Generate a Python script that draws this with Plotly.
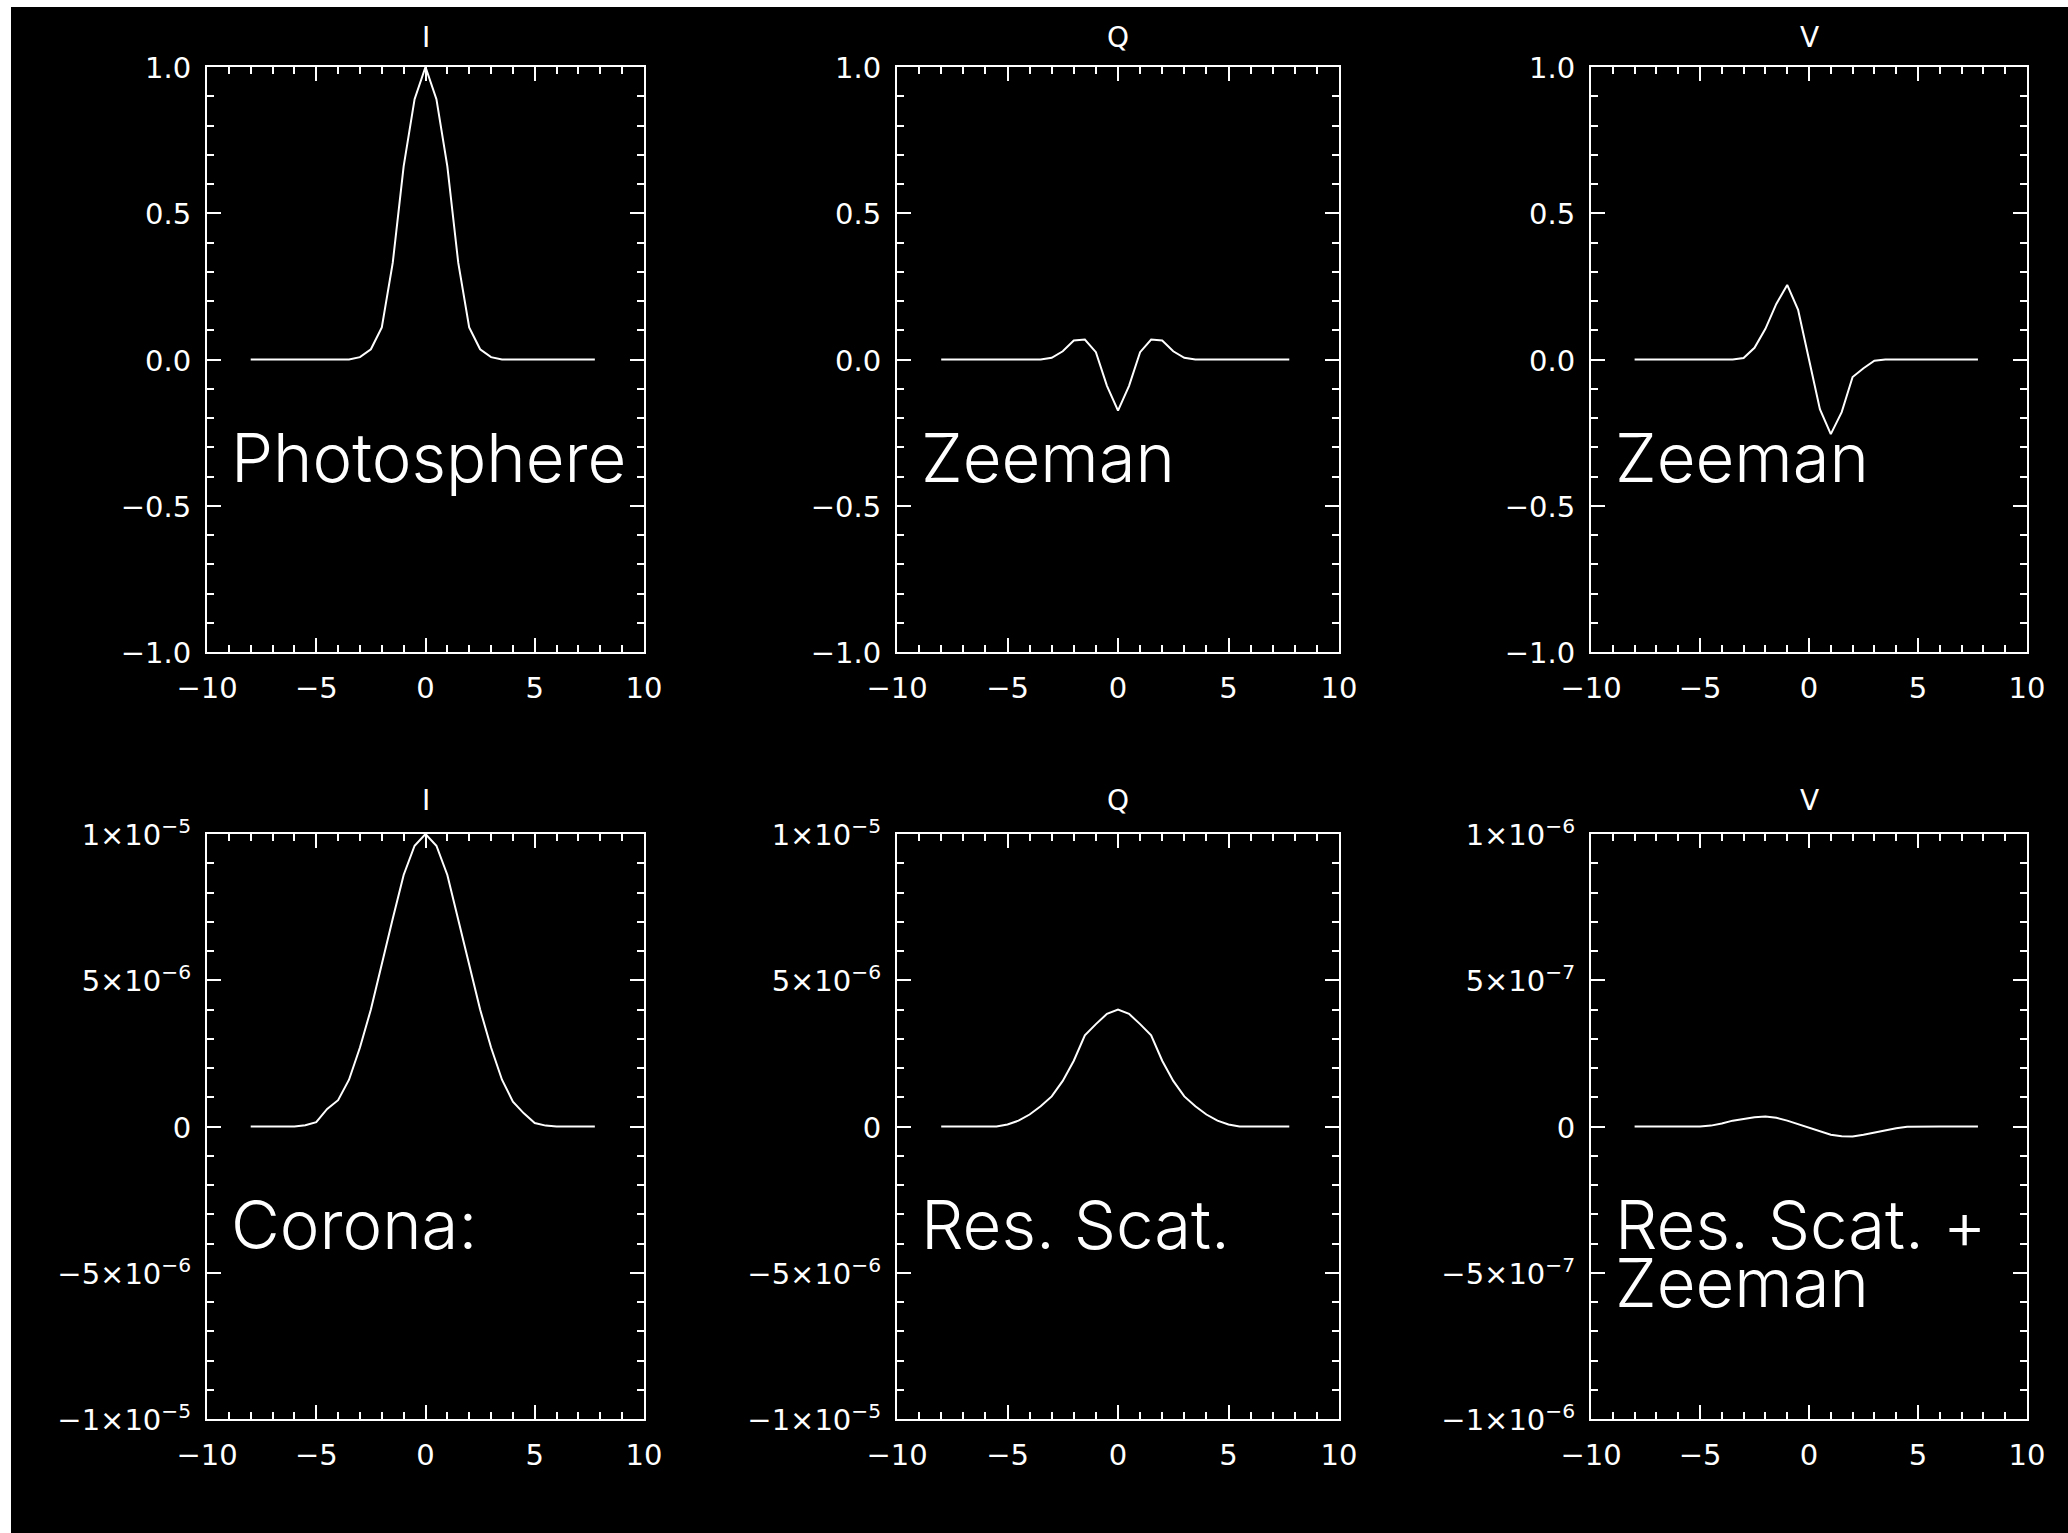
import numpy as np
import plotly.graph_objects as go

W, H = 2068, 1533

# Wavelength offset grid shared by all profiles
x_pos = [-8.0, -7.5, -7.0, -6.5, -6.0, -5.5, -5.0, -4.5, -4.0, -3.5, -3.0,
         -2.5, -2.0, -1.5, -1.0, -0.5, 0.0, 0.5, 1.0, 1.5, 2.0, 2.5, 3.0,
         3.5, 4.0, 4.5, 5.0, 5.5, 6.0, 6.5, 7.0, 7.5, 7.75]

# Photospheric Stokes profiles (normalised)
photo_I = [0, 0, 0, 0, 0, 0, 0, 0, 0, 0.0, 0.008,
           0.035, 0.11, 0.33, 0.66, 0.89, 1.0, 0.89, 0.66, 0.33, 0.11, 0.035, 0.008,
           0.0, 0, 0, 0, 0, 0, 0, 0, 0, 0]
photo_Q = [0, 0, 0, 0, 0, 0, 0, 0, 0, 0.0, 0.006,
           0.028, 0.065, 0.068, 0.025, -0.09, -0.175, -0.09, 0.025, 0.068, 0.065, 0.028, 0.006,
           0.0, 0, 0, 0, 0, 0, 0, 0, 0, 0]
photo_V = [0, 0, 0, 0, 0, 0, 0, 0, 0, 0.0, 0.005,
           0.04, 0.105, 0.19, 0.255, 0.17, 0.0, -0.17, -0.255, -0.18, -0.06, -0.03, -0.004,
           0.0, 0, 0, 0, 0, 0, 0, 0, 0, 0]

# Coronal Stokes profiles (I in units of 1e-5, Q and V in units of 1e-6)
corona_I_e5 = [0, 0, 0, 0, 0, 0.004, 0.015, 0.06, 0.09, 0.16, 0.27,
               0.40, 0.56, 0.71, 0.86, 0.96, 1.0, 0.96, 0.86, 0.71, 0.56, 0.40, 0.27,
               0.16, 0.085, 0.045, 0.012, 0.003, 0, 0, 0, 0, 0]
corona_Q_e6 = [0, 0, 0, 0, 0, 0.0, 0.07, 0.2, 0.41, 0.69, 1.03,
               1.56, 2.25, 3.12, 3.5, 3.85, 4.0, 3.85, 3.5, 3.12, 2.25, 1.56, 1.03,
               0.69, 0.41, 0.2, 0.07, 0.0, 0, 0, 0, 0, 0]
corona_V_e6 = [0, 0, 0, 0, 0, 0.0, 0.0, 0.003, 0.01, 0.02, 0.027,
               0.032, 0.034, 0.03, 0.02, 0.008, -0.002, -0.015, -0.028, -0.033, -0.034, -0.028, -0.02,
               -0.012, -0.006, -0.001, 0.0, 0.0, 0, 0, 0, 0, 0]

stokes_titles = ["I", "Q", "V", "I", "Q", "V"]

ytick_top_vals = [-1.0, -0.5, 0.0, 0.5, 1.0]
ytick_top_text = ["\u22121.0", "\u22120.5", "0.0", "0.5", "1.0"]
ytick_e5_text = ["\u22121\u00d710<sup>\u22125</sup>", "\u22125\u00d710<sup>\u22126</sup>", "0",
                 "5\u00d710<sup>\u22126</sup>", "1\u00d710<sup>\u22125</sup>"]
ytick_e6_text = ["\u22121\u00d710<sup>\u22126</sup>", "\u22125\u00d710<sup>\u22127</sup>", "0",
                 "5\u00d710<sup>\u22127</sup>", "1\u00d710<sup>\u22126</sup>"]

panel_labels = [["Photosphere"], ["Zeeman"], ["Zeeman"],
                ["Corona:"], ["Res. Scat."], ["Res. Scat. +", "Zeeman"]]

# Each panel: profile values, y scale (full range), tick labels
panels = [
    (np.array(photo_I), 1.0, ytick_top_text),
    (np.array(photo_Q), 1.0, ytick_top_text),
    (np.array(photo_V), 1.0, ytick_top_text),
    (np.array(corona_I_e5) * 1e-5, 1e-5, ytick_e5_text),
    (np.array(corona_Q_e6) * 1e-6, 1e-5, ytick_e5_text),
    (np.array(corona_V_e6) * 1e-6, 1e-6, ytick_e6_text),
]

# Frame placement in pixels
col_px = [(207, 644), (897, 1339), (1591, 2027)]
row_px = [(67, 652), (834, 1419)]
title_px = [37, 800]

FONT = "DejaVu Sans"
LABEL_FONT = "Inter"
WHITE = "white"

fig = go.Figure()
annotations = []

for k, (yvals, scale, yticktext) in enumerate(panels):
    r, c = divmod(k, 3)
    n = k + 1
    xa = "x" if n == 1 else f"x{n}"
    ya = "y" if n == 1 else f"y{n}"
    fig.add_trace(go.Scatter(
        x=x_pos, y=yvals, mode="lines", xaxis=xa, yaxis=ya,
        line=dict(color=WHITE, width=2), showlegend=False, hoverinfo="skip"))

    x0, x1 = col_px[c]
    top, bot = row_px[r]
    common = dict(showline=True, linecolor=WHITE, linewidth=2, mirror="allticks",
                  ticks="inside", tickcolor=WHITE, tickwidth=2, ticklen=14,
                  showgrid=False, zeroline=False, automargin=False,
                  tickfont=dict(family=FONT, size=29, color=WHITE))
    xkey = "xaxis" if n == 1 else f"xaxis{n}"
    ykey = "yaxis" if n == 1 else f"yaxis{n}"
    fig.update_layout(**{
        xkey: dict(common, domain=[x0 / W, x1 / W], range=[-10, 10], anchor=ya,
                   tickvals=[-10, -5, 0, 5, 10],
                   ticktext=["\u221210", "\u22125", "0", "5", "10"],
                   ticklabelstandoff=9,
                   minor=dict(ticks="inside", ticklen=7, tickwidth=2, tickcolor=WHITE,
                              tick0=0, dtick=1, showgrid=False)),
        ykey: dict(common, domain=[1 - bot / H, 1 - top / H], range=[-scale, scale], anchor=xa,
                   tickvals=[v * scale for v in ytick_top_vals], ticktext=yticktext,
                   ticklabelstandoff=8, ticklabelshift=1,
                   minor=dict(ticks="inside", ticklen=7, tickwidth=2, tickcolor=WHITE,
                              tick0=0, dtick=scale / 10, showgrid=False)),
    })

    annotations.append(dict(
        text=stokes_titles[k], xref="paper", yref="paper",
        x=(x0 + x1) / 2 / W, y=1 - title_px[r] / H, xanchor="center", yanchor="middle",
        showarrow=False, font=dict(family=FONT, size=28, color=WHITE)))

    for j, line in enumerate(panel_labels[k]):
        annotations.append(dict(
            text=line, xref=xa, yref=ya, x=-9.0, y=(-0.335 - 0.2 * j) * scale,
            xanchor="left", yanchor="middle", showarrow=False,
            font=dict(family=LABEL_FONT, size=67, color=WHITE, weight=300)))

fig.update_layout(
    width=W, height=H,
    margin=dict(l=0, r=0, t=0, b=0, autoexpand=False),
    paper_bgcolor="black", plot_bgcolor="black",
    annotations=annotations,
    shapes=[
        dict(type="rect", xref="paper", yref="paper", x0=0, x1=1, y0=1 - 7 / H, y1=1,
             fillcolor=WHITE, line=dict(width=0), layer="above"),
        dict(type="rect", xref="paper", yref="paper", x0=0, x1=11 / W, y0=0, y1=1,
             fillcolor=WHITE, line=dict(width=0), layer="above"),
    ],
)

fig.write_html("out.html")
